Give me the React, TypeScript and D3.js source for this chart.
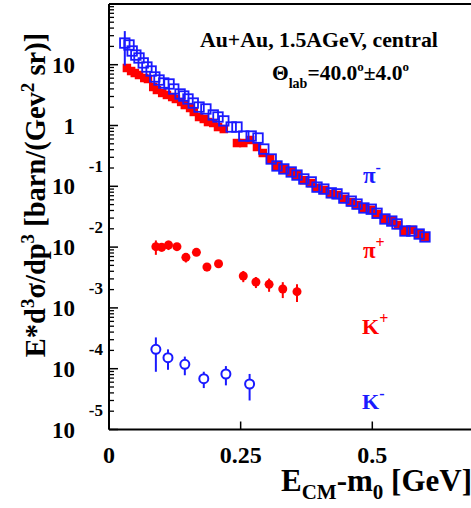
import React from "react";
import * as d3 from "d3";

// ---------- data ----------
const piMinusX = [0.030, 0.038, 0.044, 0.051, 0.057, 0.065, 0.072, 0.080, 0.087, 0.095, 0.104, 0.114, 0.123, 0.135, 0.142, 0.150, 0.160, 0.171, 0.184, 0.198, 0.207, 0.218, 0.232, 0.243, 0.256, 0.270, 0.283, 0.294, 0.308, 0.319, 0.332, 0.346, 0.357, 0.370, 0.384, 0.395, 0.408, 0.422, 0.433, 0.446, 0.460, 0.471, 0.484, 0.498, 0.509, 0.524, 0.537, 0.547, 0.562, 0.575, 0.589, 0.600];
const piMinusY = [22.7, 21.1, 16.8, 14.4, 12.9, 10.7, 9.16, 7.87, 6.28, 5.60, 5.00, 4.82, 3.98, 3.30, 3.05, 2.73, 2.34, 2.01, 1.87, 1.49, 1.38, 1.19, 0.944, 0.944, 0.671, 0.671, 0.622, 0.41, 0.281, 0.216, 0.193, 0.172, 0.153, 0.132, 0.118, 0.097, 0.090, 0.078, 0.075, 0.064, 0.057, 0.051, 0.044, 0.042, 0.036, 0.029, 0.0268, 0.024, 0.0184, 0.0184, 0.0164, 0.0147];
const piMinusErr = [13, 0, 0, 0, 0, 0, 0, 0, 0, 0, 0, 0, 0, 0, 0, 0, 0, 0, 0, 0, 0, 0, 0, 0, 0, 0, 0, 0, 0, 0, 0, 0, 0, 0, 0, 0, 0, 0, 0, 0, 0, 0, 0, 0, 0, 0, 0, 0, 0, 0, 0, 0];

const piPlusX = [0.034, 0.042, 0.049, 0.057, 0.067, 0.074, 0.084, 0.091, 0.101, 0.110, 0.120, 0.127, 0.137, 0.144, 0.154, 0.161, 0.171, 0.180, 0.188, 0.198, 0.207, 0.218, 0.243, 0.255, 0.268, 0.281, 0.292, 0.306, 0.319, 0.332, 0.346, 0.357, 0.370, 0.384, 0.395, 0.408, 0.422, 0.433, 0.446, 0.460, 0.471, 0.484, 0.498, 0.509, 0.524, 0.537, 0.549, 0.562, 0.575, 0.589, 0.600];
const piPlusY = [8.83, 7.87, 7.30, 6.77, 6.04, 5.82, 4.30, 3.84, 3.43, 3.18, 2.94, 2.73, 2.44, 2.17, 1.94, 1.67, 1.38, 1.28, 1.14, 1.10, 0.944, 0.875, 0.515, 0.515, 0.578, 0.443, 0.353, 0.281, 0.216, 0.193, 0.172, 0.153, 0.126, 0.113, 0.094, 0.087, 0.075, 0.072, 0.062, 0.055, 0.049, 0.044, 0.041, 0.035, 0.029, 0.0268, 0.0231, 0.0184, 0.0191, 0.0164, 0.0147];

const kPlusX = [0.089, 0.100, 0.113, 0.129, 0.146, 0.166, 0.186, 0.208, 0.255, 0.279, 0.304, 0.330, 0.357];
const kPlusY = [0.01016, 0.00993, 0.01084, 0.01016, 0.00679, 0.0082, 0.00471, 0.00533, 0.00335, 0.00267, 0.00244, 0.00205, 0.00185];
const kPlusErr = [0.0027, 0.0015, 0.0019, 0.0007, 0.0012, 0.0009, 0.0007, 0.0004, 0.0007, 0.00055, 0.0006, 0.0006, 0.0006];

const kMinusX = [0.089, 0.112, 0.144, 0.180, 0.222, 0.267];
const kMinusY = [2.08e-4, 1.52e-4, 1.18e-4, 6.86e-5, 8.18e-5, 5.6e-5];
const kMinusErr = [1.19e-4, 5.6e-5, 4.0e-5, 2.06e-5, 2.86e-5, 2.6e-5];

const xTickValues = [0, 0.25, 0.5];
const xTickLabels = ["0", "0.25", "0.5"];
const yDecades = [-5, -4, -3, -2, -1, 0, 1, 2];
const yLabelExps = [1, 0, -1, -2, -3, -4, -5];

// ---------- layout ----------
const W = 471;
const H = 508;
const X0 = 109;
const PXPERUNIT = 526.6;
const XMAX = 0.7;
const YBOT = 429.5;
const YTOP = 3.9;

const BLUE = "#1a1aff";
const RED = "#ff0000";
const FONT = "'Liberation Serif', 'Times New Roman', serif";

export default function App() {
  const x = d3.scaleLinear().domain([0, XMAX]).range([X0, X0 + XMAX * PXPERUNIT]);
  const y = d3.scaleLog().domain([1e-5, 1e2]).range([YBOT, YTOP]);
  const xR = x(XMAX);

  const minor: number[] = [];
  for (let d = -5; d < 2; d++) {
    for (let m = 2; m <= 9; m++) minor.push(m * Math.pow(10, d));
  }

  const pim = piMinusX.map((e, i) => ({ e, v: piMinusY[i], err: piMinusErr[i] }));
  const pip = piPlusX.map((e, i) => ({ e, v: piPlusY[i] }));
  const kp = kPlusX.map((e, i) => ({ e, v: kPlusY[i], err: kPlusErr[i] }));
  const km = kMinusX.map((e, i) => ({ e, v: kMinusY[i], err: kMinusErr[i] }));

  const sq = 9.5;
  const rsq = 8.5;

  return (
    <svg width={W} height={H} style={{ position: "absolute", left: 0, top: 0, background: "#fff" }} fontFamily={FONT}>
      <rect x={0} y={0} width={W} height={H} fill="#fff" />
      {/* frame */}
      <line x1={X0} x2={xR} y1={YTOP} y2={YTOP} stroke="#000" strokeWidth={2} />
      <line x1={xR} x2={xR} y1={YTOP} y2={YBOT} stroke="#000" strokeWidth={2} />
      <line x1={X0} x2={xR} y1={YBOT} y2={YBOT} stroke="#000" strokeWidth={2} />
      <line x1={X0} x2={X0} y1={YTOP} y2={YBOT} stroke="#000" strokeWidth={2} />

      {/* y ticks */}
      {yDecades.map((d) => (
        <line key={"yM" + d} x1={X0} x2={X0 + 9} y1={y(Math.pow(10, d))} y2={y(Math.pow(10, d))} stroke="#000" strokeWidth={1.5} />
      ))}
      {minor.map((v, i) => (
        <line key={"ym" + i} x1={X0} x2={X0 + 5} y1={y(v)} y2={y(v)} stroke="#000" strokeWidth={1.3} />
      ))}
      {/* y labels */}
      {yLabelExps.map((d) => {
        const yy = y(Math.pow(10, d));
        if (d === 0) {
          return (
            <text key={"yl" + d} x={75} y={yy + 8} textAnchor="end" fontSize={23} fontWeight="bold">1</text>
          );
        }
        if (d === 1) {
          return (
            <text key={"yl" + d} x={75} y={yy + 8} textAnchor="end" fontSize={23} fontWeight="bold">10</text>
          );
        }
        return (
          <g key={"yl" + d}>
            <text x={75} y={yy + 8} textAnchor="end" fontSize={23} fontWeight="bold">10</text>
            <text x={103} y={yy - 14} textAnchor="end" fontSize={17} fontWeight="bold">{"-" + Math.abs(d)}</text>
          </g>
        );
      })}

      {/* x ticks */}
      {xTickValues.map((v, i) => (
        <g key={"xt" + i}>
          <line x1={x(v)} x2={x(v)} y1={YBOT} y2={YBOT - 8} stroke="#000" strokeWidth={1.5} />
          <text x={x(v)} y={463} textAnchor="middle" fontSize={24} fontWeight="bold">{xTickLabels[i]}</text>
        </g>
      ))}

      {/* axis titles */}
      <text x={281} y={491} fontSize={31} fontWeight="bold">
        E<tspan fontSize={21} dy={8}>CM</tspan><tspan dy={-8}>-m</tspan><tspan fontSize={21} dy={8}>0</tspan><tspan dy={-8}> [GeV]</tspan>
      </text>
      <text transform="translate(45,195) rotate(-90)" textAnchor="middle" fontSize={28.5} fontWeight="bold">
        E*d<tspan fontSize={19} dy={-11}>3</tspan><tspan dy={11}>σ/dp</tspan><tspan fontSize={19} dy={-11}>3</tspan><tspan dy={11}> [barn/(Gev</tspan><tspan fontSize={19} dy={-11}>2</tspan><tspan dy={11}> sr)]</tspan>
      </text>

      {/* annotations */}
      <text x={200} y={47} fontSize={21.8} fontWeight="bold">Au+Au, 1.5AGeV, central</text>
      <text x={272} y={80} fontSize={21.5} fontWeight="bold">
        Θ<tspan fontSize={14} dy={8}>lab</tspan><tspan dy={-8}>=40.0</tspan><tspan fontSize={13} dy={-9}>o</tspan><tspan dy={9}>±4.0</tspan><tspan fontSize={13} dy={-9}>o</tspan>
      </text>

      {/* particle labels */}
      <text x={363} y={183} fontSize={23} fill={BLUE} fontWeight="bold">π<tspan fontSize={16} dy={-10}>-</tspan></text>
      <text x={363} y={258} fontSize={23} fill={RED} fontWeight="bold">π<tspan fontSize={16} dy={-10}>+</tspan></text>
      <text x={362} y={334} fontSize={22} fill={RED} fontWeight="bold">K<tspan fontSize={16} dy={-10}>+</tspan></text>
      <text x={362} y={409} fontSize={22} fill={BLUE} fontWeight="bold">K<tspan fontSize={16} dy={-10}>-</tspan></text>

      {/* pi+ red squares */}
      {pip.map((p, i) => (
        <rect key={"pp" + i} x={x(p.e) - rsq / 2} y={y(p.v) - rsq / 2} width={rsq} height={rsq} fill={RED} />
      ))}
      {/* pi- blue open squares */}
      {pim.map((p, i) => (
        <g key={"pm" + i}>
          {p.err > 0 && (
            <line x1={x(p.e)} x2={x(p.e)} y1={y(p.v + p.err)} y2={y(Math.max(p.v - p.err, 1e-6))} stroke={BLUE} strokeWidth={2} />
          )}
          <rect x={x(p.e) - sq / 2} y={y(p.v) - sq / 2} width={sq} height={sq} fill="none" stroke={BLUE} strokeWidth={1.8} />
        </g>
      ))}
      {/* K+ */}
      {kp.map((p, i) => (
        <g key={"kp" + i}>
          <line x1={x(p.e)} x2={x(p.e)} y1={y(p.v + p.err)} y2={y(p.v - p.err)} stroke={RED} strokeWidth={2} />
          <circle cx={x(p.e)} cy={y(p.v)} r={4.5} fill={RED} />
        </g>
      ))}
      {/* K- */}
      {km.map((p, i) => (
        <g key={"km" + i}>
          <line x1={x(p.e)} x2={x(p.e)} y1={y(p.v + p.err)} y2={y(p.v - p.err)} stroke={BLUE} strokeWidth={2} />
          <circle cx={x(p.e)} cy={y(p.v)} r={4.5} fill="#fff" stroke={BLUE} strokeWidth={2} />
        </g>
      ))}
    </svg>
  );
}
